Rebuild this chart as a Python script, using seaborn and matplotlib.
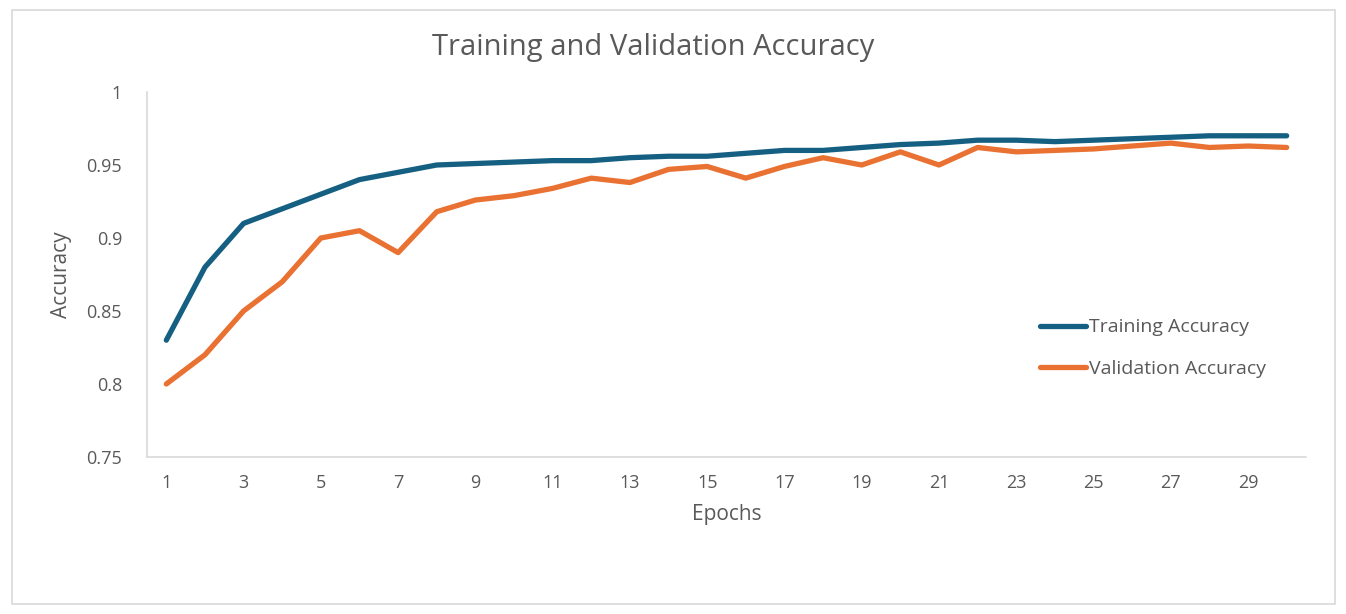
import pandas as pd
import matplotlib.pyplot as plt
import seaborn as sns
from matplotlib.patches import Rectangle

# values
epochs = list(range(1, 31))
train_acc = [0.830, 0.880, 0.910, 0.920, 0.930, 0.940, 0.945, 0.950, 0.951, 0.952,
             0.953, 0.953, 0.955, 0.956, 0.956, 0.958, 0.960, 0.960, 0.962, 0.964,
             0.965, 0.967, 0.967, 0.966, 0.967, 0.968, 0.969, 0.970, 0.970, 0.970]
val_acc = [0.800, 0.820, 0.850, 0.870, 0.900, 0.905, 0.890, 0.918, 0.926, 0.929,
           0.934, 0.941, 0.938, 0.947, 0.949, 0.941, 0.949, 0.955, 0.950, 0.959,
           0.950, 0.962, 0.959, 0.960, 0.961, 0.963, 0.965, 0.962, 0.963, 0.962]
series_names = ['Training Accuracy', 'Validation Accuracy']
y_ticks = [0.75, 0.8, 0.85, 0.9, 0.95, 1]
y_tick_labels = ['0.75', '0.8', '0.85', '0.9', '0.95', '1']

df = pd.DataFrame({
    'Epochs': epochs * 2,
    'Accuracy': train_acc + val_acc,
    'Series': [series_names[0]] * len(epochs) + [series_names[1]] * len(epochs),
})

sns.set_style('white')
plt.rcParams['font.family'] = ['Open Sans', 'DejaVu Sans']
text_color = '#595959'
axis_color = '#d9d9d9'

fig = plt.figure(figsize=(13.46, 6.14), dpi=100)
ax = fig.add_axes([147 / 1346, 1 - 457 / 614, (1306 - 147) / 1346, (457 - 92) / 614])

sns.lineplot(data=df, x='Epochs', y='Accuracy', hue='Series',
             palette=['#156082', '#E97132'], linewidth=3.8, ax=ax,
             solid_capstyle='round')

ax.set_xlim(0.5, 30.5)
ax.set_ylim(0.75, 1.0)
ax.set_xticks(epochs[::2])
ax.set_xticklabels([str(e) for e in epochs[::2]])
ax.set_yticks(y_ticks)
ax.set_yticklabels(y_tick_labels)
ax.tick_params(axis='both', length=0, labelsize=13, colors=text_color)
ax.tick_params(axis='x', pad=12)
ax.tick_params(axis='y', pad=18)

for side in ['top', 'right']:
    ax.spines[side].set_visible(False)
for side in ['left', 'bottom']:
    ax.spines[side].set_color(axis_color)
    ax.spines[side].set_linewidth(1.2)

ax.set_xlabel('Epochs', fontsize=15, color=text_color, labelpad=9)
ax.set_ylabel('Accuracy', fontsize=15, color=text_color, labelpad=10)

fig.text(653 / 1346, 1 - 47 / 614, 'Training and Validation Accuracy',
         ha='center', va='center', fontsize=21, color=text_color)

leg = ax.legend(loc='upper left', bbox_to_anchor=(1022 / 1346, 1 - 301 / 614),
                bbox_transform=fig.transFigure, frameon=False, fontsize=14,
                handlelength=2.4, handletextpad=0.15, labelspacing=1.2)
for t in leg.get_texts():
    t.set_color(text_color)

# chart area border
fig.patches.append(Rectangle((12 / 1346, 1 - 604 / 614), (1335 - 12) / 1346, (604 - 10) / 614,
                             transform=fig.transFigure, fill=False,
                             edgecolor=axis_color, linewidth=1.2))

fig.savefig('out.png', dpi=100)
